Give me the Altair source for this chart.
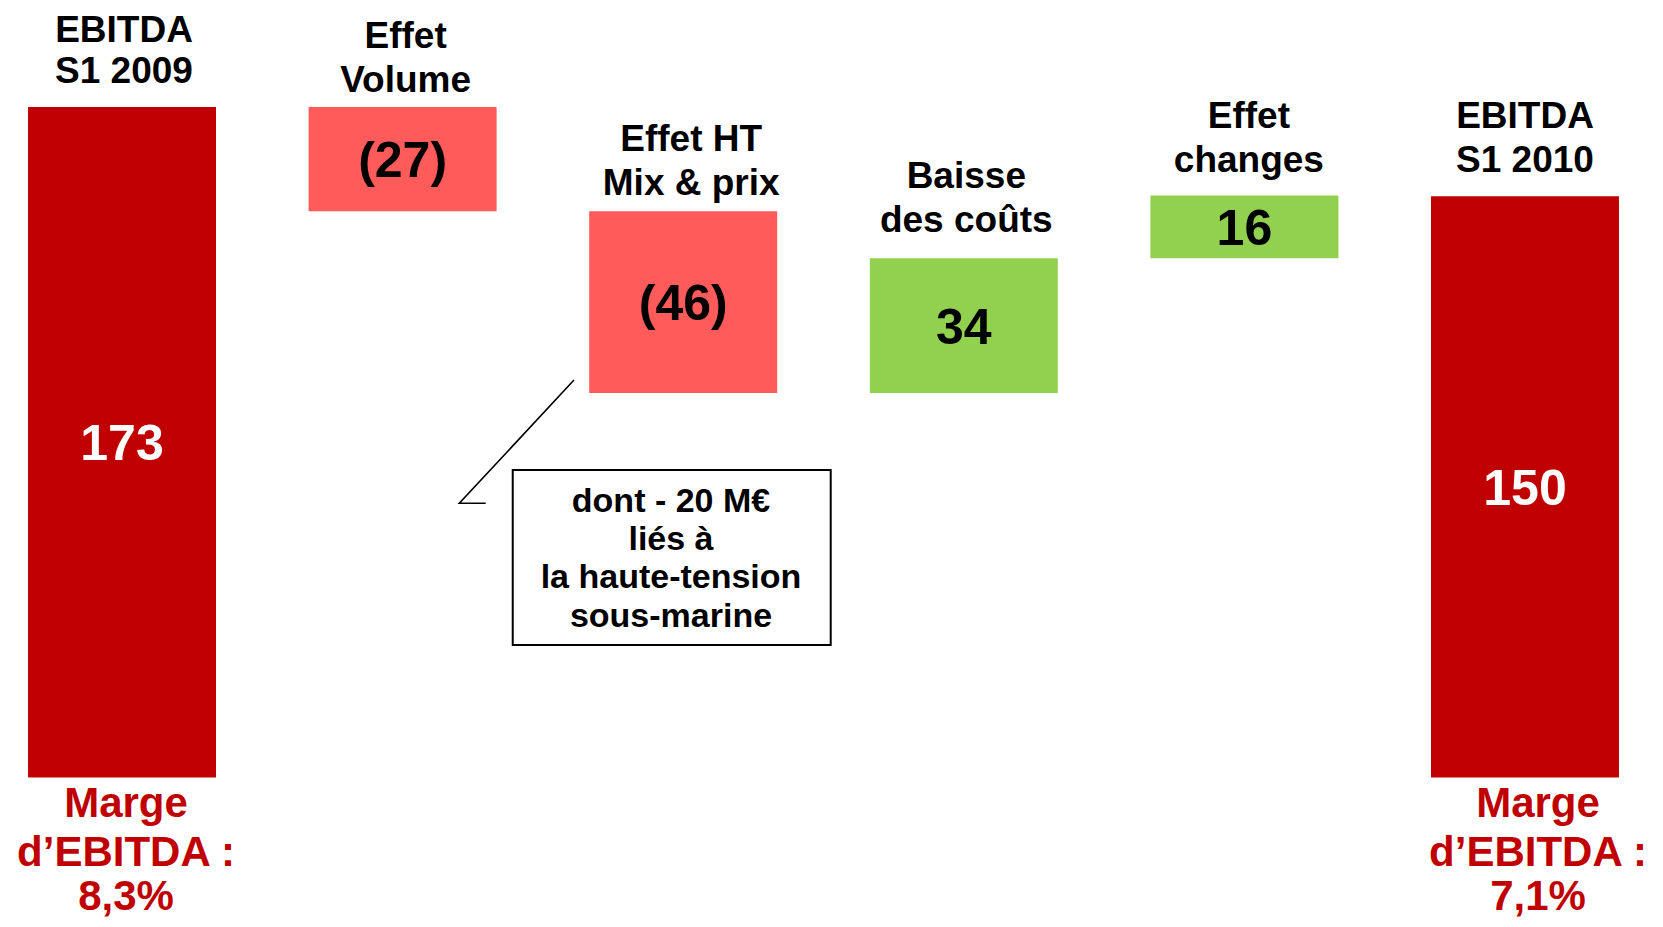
import altair as alt
import pandas as pd

# ---- data ----
label_line1 = ["EBITDA", "Effet", "Effet HT", "Baisse", "Effet", "EBITDA"]
label_line2 = ["S1 2009", "Volume", "Mix & prix", "des coûts", "changes", "S1 2010"]
# bar heights as drawn (the labels are the rounded figures)
values = [173, -26.9, -46.9, 34.8, 16.2, 150]
kinds = ["total", "delta", "delta", "delta", "delta", "total"]
value_labels = ["173", "(27)", "(46)", "34", "16", "150"]
margin_line1 = "Marge"
margin_line2 = "d\u2019EBITDA :"
margin_values = {0: "8,3%", 5: "7,1%"}
note_lines = ["dont - 20 M\u20ac", "liés à", "la haute-tension", "sous-marine"]

# ---- styles ----
FONT = "Liberation Sans"
DARK_RED = "#C00000"
LIGHT_RED = "#FF5B5B"
GREEN = "#92D050"
label_dx = [2, 3, 8, 2.5, 4.5, 0]
label_gap = [23.7, 15.3, 16.7, 26.6, 23.3, 23.7]
line_step = [41.5, 44, 44, 44, 44, 44]
margin_dx = {0: 4, 5: 13}

W, H = 1647, 911
XDOM = [-0.40627, 5.4633]
YDOM = [-36.51, 198.55]

# build waterfall table
rows = []
running = 0
for i, v in enumerate(values):
    if kinds[i] == "total":
        start, end = 0, v
        fill = DARK_RED
        tcol = "white"
    else:
        start, end = running, running + v
        fill = LIGHT_RED if v < 0 else GREEN
        tcol = "black"
    running = end
    rows.append(dict(idx=i, start=start, end=end, top=max(start, end),
                     mid=(start + end) / 2, fill=fill, tcol=tcol,
                     vlabel=value_labels[i], l1=label_line1[i], l2=label_line2[i],
                     margin=margin_values.get(i, "")))
df = pd.DataFrame(rows)

xs = alt.Scale(domain=XDOM, nice=False, zero=False)
ys = alt.Scale(domain=YDOM, nice=False, zero=False)
X = lambda f: alt.X(f, scale=xs, axis=None)
Y = lambda f: alt.Y(f, scale=ys, axis=None)

base = alt.Chart(df)

bars = base.transform_calculate(
    x0="datum.idx - 0.335", x1="datum.idx + 0.335"
).mark_rect().encode(
    x=X("x0:Q"), x2="x1:Q", y=Y("start:Q"), y2="end:Q",
    color=alt.Color("fill:N", scale=None),
)

vals = base.mark_text(font=FONT, fontWeight="bold", fontSize=50, baseline="alphabetic",
                      align="center", dy=18).encode(
    x=X("idx:Q"), y=Y("mid:Q"), text="vlabel:N",
    color=alt.Color("tcol:N", scale=None),
)

layers = [bars, vals]

for i in range(len(values)):
    sub = base.transform_filter(alt.datum.idx == i)
    for field, extra in (("l1", line_step[i]), ("l2", 0)):
        layers.append(
            sub.mark_text(font=FONT, fontWeight="bold", fontSize=37, color="black",
                          baseline="alphabetic", align="center",
                          dx=label_dx[i], dy=-(label_gap[i] + extra)).encode(
                x=X("idx:Q"), y=Y("top:Q"), text=f"{field}:N")
        )

for i, dx in margin_dx.items():
    sub = base.transform_filter(alt.datum.idx == i).transform_calculate(
        m1=f"'{margin_line1}'", m2=f"'{margin_line2}'")
    for field, dy in (("m1", 39.5), ("m2", 88), ("margin", 132)):
        layers.append(
            sub.mark_text(font=FONT, fontWeight="bold", fontSize=42, color=DARK_RED,
                          baseline="alphabetic", align="center", dx=dx, dy=dy).encode(
                x=X("idx:Q"), y=Y("start:Q"), text=f"{field}:N")
        )

# ---- annotation (callout) in data units ----
note_box = pd.DataFrame([dict(x0=1.3925, x1=2.5257, y0=79.34, y1=34.19, xc=1.9565)])
callout = pd.DataFrame(dict(k=[0, 1, 2], x=[1.6108, 1.2021, 1.2962], y=[102.56, 70.75, 70.75]))

line = alt.Chart(callout).mark_line(color="black", strokeWidth=1.6).encode(
    x=X("x:Q"), y=Y("y:Q"), order="k:Q")
box = alt.Chart(note_box).mark_rect(fill="white", stroke="black", strokeWidth=2).encode(
    x=X("x0:Q"), x2="x1:Q", y=Y("y0:Q"), y2="y1:Q")
layers += [line, box]
for j, txt in enumerate(note_lines):
    nd = note_box.assign(t=txt)
    layers.append(
        alt.Chart(nd).mark_text(font=FONT, fontWeight="bold", fontSize=34, color="black",
                                baseline="alphabetic", align="center",
                                dy=41.7 + 38.3 * j).encode(
            x=X("xc:Q"), y=Y("y0:Q"), text="t:N")
    )

chart = alt.layer(*layers).properties(
    width=W, height=H, padding=0, autosize=alt.AutoSizeParams(type="none")
).configure(background="white").configure_view(stroke=None, strokeWidth=0)

chart.save("out.html", embed_options={"renderer": "svg", "actions": False})
